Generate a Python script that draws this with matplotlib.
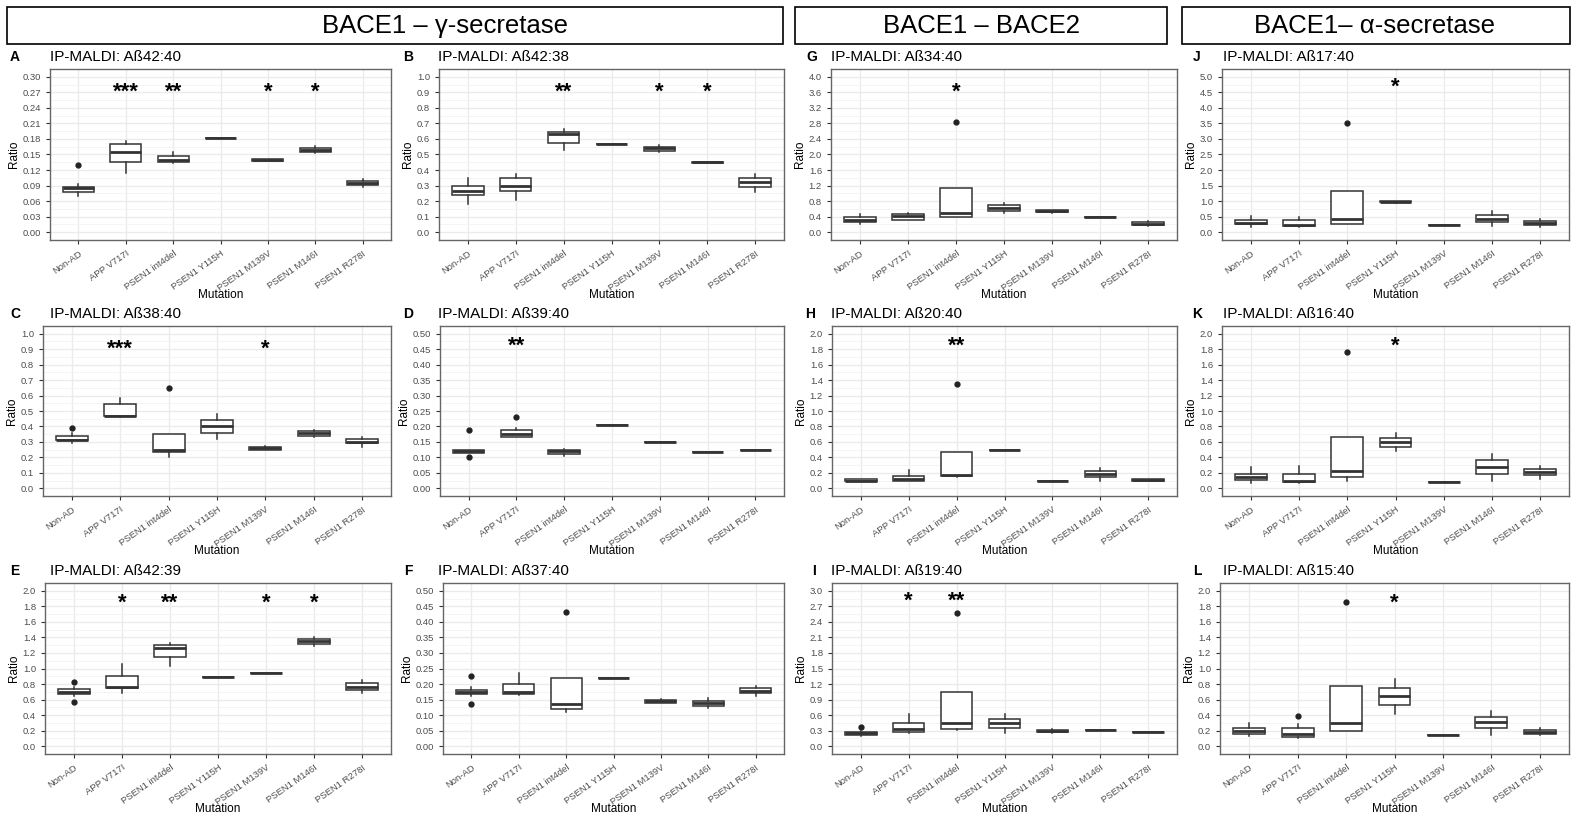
import matplotlib
matplotlib.use("Agg")
import matplotlib.pyplot as plt
from matplotlib.patches import Rectangle
from matplotlib.ticker import MultipleLocator, FormatStrFormatter

W, H = 1578, 821
plt.rcParams['font.family'] = ['Liberation Sans', 'DejaVu Sans']

cats = ["Non-AD", "APP V717I", "PSEN1 int4del", "PSEN1 Y115H",
        "PSEN1 M139V", "PSEN1 M146I", "PSEN1 R278I"]

# box stats per category: (whisker low, q1, median, q3, whisker high)
A_box = [(0.069, 0.077, 0.0845, 0.088, 0.093), (0.115, 0.1355, 0.154, 0.170, 0.176),
         (0.1335, 0.1355, 0.139, 0.147, 0.154), (0.1826, 0.1826, 0.1826, 0.1826, 0.1826),
         (0.138, 0.138, 0.140, 0.142, 0.142), (0.152, 0.155, 0.159, 0.1626, 0.166),
         (0.088, 0.091, 0.095, 0.0987, 0.102)]
A_out = [[0.130], [], [], [], [], [], []]
A_sig = ["", "***", "**", "", "*", "*", ""]

B_box = [(0.18, 0.242, 0.268, 0.30, 0.351), (0.21, 0.268, 0.298, 0.347, 0.373),
         (0.53, 0.576, 0.63, 0.647, 0.662), (0.567, 0.567, 0.567, 0.567, 0.567),
         (0.514, 0.525, 0.54, 0.55, 0.561), (0.445, 0.445, 0.449, 0.453, 0.453),
         (0.26, 0.29, 0.32, 0.35, 0.375)]
B_out = [[], [], [], [], [], [], []]
B_sig = ["", "", "**", "", "*", "*", ""]

C_box = [(0.29, 0.31, 0.315, 0.34, 0.36), (0.46, 0.47, 0.47, 0.545, 0.585),
         (0.205, 0.235, 0.25, 0.35, 0.35), (0.32, 0.36, 0.40, 0.445, 0.48),
         (0.245, 0.25, 0.26, 0.27, 0.275), (0.335, 0.34, 0.355, 0.37, 0.38),
         (0.27, 0.29, 0.30, 0.32, 0.335)]
C_out = [[0.39], [], [0.65], [], [], [], []]
C_sig = ["", "***", "", "", "*", "", ""]

D_box = [(0.115, 0.115, 0.12, 0.125, 0.125), (0.165, 0.167, 0.175, 0.187, 0.195),
         (0.105, 0.112, 0.12, 0.125, 0.128), (0.205, 0.205, 0.205, 0.205, 0.205),
         (0.15, 0.15, 0.15, 0.15, 0.15), (0.118, 0.118, 0.118, 0.118, 0.118),
         (0.125, 0.125, 0.125, 0.125, 0.125)]
D_out = [[0.19, 0.10], [0.232], [], [], [], [], []]
D_sig = ["", "**", "", "", "", "", ""]

E_box = [(0.65, 0.67, 0.70, 0.73, 0.76), (0.685, 0.745, 0.76, 0.905, 1.06),
         (1.03, 1.15, 1.27, 1.30, 1.33), (0.895, 0.895, 0.895, 0.895, 0.895),
         (0.94, 0.94, 0.94, 0.94, 0.94), (1.29, 1.32, 1.35, 1.385, 1.41),
         (0.68, 0.72, 0.765, 0.81, 0.85)]
E_out = [[0.83, 0.57], [], [], [], [], [], []]
E_sig = ["", "*", "**", "", "*", "*", ""]

F_box = [(0.16, 0.167, 0.173, 0.182, 0.19), (0.165, 0.167, 0.175, 0.20, 0.235),
         (0.11, 0.12, 0.135, 0.218, 0.218), (0.22, 0.22, 0.22, 0.22, 0.22),
         (0.138, 0.14, 0.145, 0.15, 0.152), (0.122, 0.128, 0.138, 0.147, 0.155),
         (0.162, 0.17, 0.178, 0.188, 0.195)]
F_out = [[0.225, 0.136], [], [0.432], [], [], [], []]
F_sig = ["", "", "", "", "", "", ""]

G_box = [(0.22, 0.27, 0.32, 0.38, 0.47), (0.32, 0.32, 0.42, 0.48, 0.50),
         (0.38, 0.40, 0.50, 1.14, 1.14), (0.50, 0.55, 0.62, 0.70, 0.76),
         (0.50, 0.51, 0.54, 0.57, 0.58), (0.38, 0.38, 0.38, 0.38, 0.38),
         (0.15, 0.18, 0.22, 0.26, 0.28)]
G_out = [[], [], [2.83], [], [], [], []]
G_sig = ["", "", "*", "", "", "", ""]

H_box = [(0.09, 0.09, 0.10, 0.12, 0.12), (0.10, 0.10, 0.12, 0.16, 0.24),
         (0.14, 0.155, 0.17, 0.47, 0.47), (0.49, 0.49, 0.49, 0.49, 0.49),
         (0.10, 0.10, 0.10, 0.10, 0.10), (0.10, 0.14, 0.18, 0.225, 0.26),
         (0.095, 0.095, 0.105, 0.12, 0.12)]
H_out = [[], [], [1.35], [], [], [], []]
H_sig = ["", "", "**", "", "", "", ""]

I_box = [(0.20, 0.22, 0.25, 0.28, 0.30), (0.25, 0.28, 0.33, 0.44, 0.63),
         (0.32, 0.34, 0.44, 1.04, 1.04), (0.26, 0.36, 0.45, 0.53, 0.63),
         (0.26, 0.27, 0.29, 0.32, 0.33), (0.32, 0.32, 0.32, 0.32, 0.32),
         (0.27, 0.27, 0.27, 0.27, 0.27)]
I_out = [[0.38], [], [2.57], [], [], [], []]
I_sig = ["", "*", "**", "", "", "", ""]

J_box = [(0.18, 0.25, 0.29, 0.40, 0.53), (0.18, 0.20, 0.24, 0.38, 0.50),
         (0.25, 0.28, 0.44, 1.32, 1.32), (0.94, 0.96, 0.98, 1.00, 1.02),
         (0.22, 0.22, 0.22, 0.22, 0.22), (0.20, 0.32, 0.44, 0.57, 0.68),
         (0.18, 0.24, 0.30, 0.36, 0.42)]
J_out = [[], [], [3.50], [], [], [], []]
J_sig = ["", "", "", "*", "", "", ""]

K_box = [(0.07, 0.11, 0.14, 0.18, 0.28), (0.07, 0.08, 0.10, 0.19, 0.29),
         (0.10, 0.14, 0.22, 0.66, 0.66), (0.48, 0.54, 0.60, 0.65, 0.71),
         (0.08, 0.08, 0.08, 0.08, 0.08), (0.10, 0.19, 0.28, 0.36, 0.44),
         (0.12, 0.17, 0.21, 0.25, 0.29)]
K_out = [[], [], [1.76], [], [], [], []]
K_sig = ["", "", "", "*", "", "", ""]

L_box = [(0.13, 0.16, 0.19, 0.23, 0.30), (0.10, 0.12, 0.16, 0.23, 0.29),
         (0.20, 0.20, 0.30, 0.77, 0.77), (0.41, 0.53, 0.64, 0.75, 0.86),
         (0.15, 0.15, 0.15, 0.15, 0.15), (0.15, 0.23, 0.31, 0.37, 0.45),
         (0.14, 0.16, 0.18, 0.21, 0.23)]
L_out = [[], [0.39], [1.86], [], [], [], []]
L_sig = ["", "", "", "*", "", "", ""]

fig = plt.figure(figsize=(W / 100, H / 100), dpi=100)


def fx(x):
    return x / W


def fy(y):
    return 1 - y / H


def panel(rect, letter, title, box, out, sig, ymax, step, fmt, star_y, letter_x, title_x):
    x0, y0, x1, y1 = rect
    ax = fig.add_axes([fx(x0), fy(y1), (x1 - x0) / W, (y1 - y0) / H])
    stats = []
    for (lo, q1, med, q3, hi), fl in zip(box, out):
        stats.append(dict(whislo=lo, q1=q1, med=med, q3=q3, whishi=hi, fliers=fl))
    ax.bxp(stats, positions=range(1, 8), widths=0.66, patch_artist=True, showcaps=False,
           boxprops=dict(facecolor='white', edgecolor='#333333', linewidth=1.1),
           medianprops=dict(color='#333333', linewidth=2.0),
           whiskerprops=dict(color='#333333', linewidth=1.1),
           flierprops=dict(marker='o', markerfacecolor='#222222', markeredgecolor='#222222',
                           markersize=3.5))
    ax.set_xlim(0.4, 7.6)
    ax.set_ylim(-0.05 * ymax, 1.05 * ymax)
    ax.yaxis.set_major_locator(MultipleLocator(step))
    ax.yaxis.set_minor_locator(MultipleLocator(step / 2))
    ax.yaxis.set_major_formatter(FormatStrFormatter(fmt))
    ax.set_xticks(range(1, 8))
    ax.set_xticklabels(cats, rotation=35, ha='right', rotation_mode='anchor')
    ax.tick_params(labelsize=6.8, labelcolor='#4D4D4D', color='#333333', length=3, width=0.8)
    ax.tick_params(which='minor', length=0)
    ax.set_axisbelow(True)
    ax.grid(which='major', color='#EBEBEB', linewidth=1.0)
    ax.grid(which='minor', axis='y', color='#F3F3F3', linewidth=0.6)
    for s in ax.spines.values():
        s.set_color('#666666')
        s.set_linewidth(1.0)
    ax.set_xlabel('Mutation', fontsize=8.5, va='center')
    ax.xaxis.set_label_coords(0.5, -55 / (y1 - y0))
    ax.set_ylabel('Ratio', fontsize=8.5, labelpad=2)
    for i, s in enumerate(sig):
        if s:
            ax.text(i + 1, star_y, s, ha='center', va='center', fontsize=16,
                    fontweight='bold')
    ty = y0 - 12
    fig.text(fx(letter_x), fy(ty), letter, fontsize=10, fontweight='bold', ha='center', va='center')
    fig.text(fx(title_x), fy(ty), title, fontsize=11, ha='left', va='center')
    return ax


panel((50, 69, 391, 240), "A", "IP-MALDI: Aß42:40", A_box, A_out, A_sig, 0.30, 0.03, '%.2f', 0.27, 15, 50)
panel((439, 69, 784, 240), "B", "IP-MALDI: Aß42:38", B_box, B_out, B_sig, 1.0, 0.1, '%.1f', 0.9, 408, 438)
panel((43, 326, 391, 496), "C", "IP-MALDI: Aß38:40", C_box, C_out, C_sig, 1.0, 0.1, '%.1f', 0.9, 15, 50)
panel((440, 326, 784, 496), "D", "IP-MALDI: Aß39:40", D_box, D_out, D_sig, 0.50, 0.05, '%.2f', 0.46, 408, 438)
panel((45, 583, 391, 754), "E", "IP-MALDI: Aß42:39", E_box, E_out, E_sig, 2.0, 0.2, '%.1f', 1.84, 15, 50)
panel((443, 583, 784, 754), "F", "IP-MALDI: Aß37:40", F_box, F_out, F_sig, 0.50, 0.05, '%.2f', 0.46, 408, 438)
panel((831, 69, 1177, 240), "G", "IP-MALDI: Aß34:40", G_box, G_out, G_sig, 4.0, 0.4, '%.1f', 3.6, 812, 831)
panel((832, 326, 1177, 496), "H", "IP-MALDI: Aß20:40", H_box, H_out, H_sig, 2.0, 0.2, '%.1f', 1.84, 810, 831)
panel((832, 583, 1177, 754), "I", "IP-MALDI: Aß19:40", I_box, I_out, I_sig, 3.0, 0.3, '%.1f', 2.8, 814, 831)
panel((1222, 69, 1569, 240), "J", "IP-MALDI: Aß17:40", J_box, J_out, J_sig, 5.0, 0.5, '%.1f', 4.65, 1197, 1223)
panel((1222, 326, 1569, 496), "K", "IP-MALDI: Aß16:40", K_box, K_out, K_sig, 2.0, 0.2, '%.1f', 1.84, 1197, 1223)
panel((1220, 583, 1569, 754), "L", "IP-MALDI: Aß15:40", L_box, L_out, L_sig, 2.0, 0.2, '%.1f', 1.84, 1197, 1223)

# group header boxes: (text, box left, box right, text centre)
headers = [("BACE1 – γ-secretase", 7, 783, 445), ("BACE1 – BACE2", 795, 1167, 981),
           ("BACE1– α-secretase", 1182, 1570, 1375)]
for text, x0, x1, xc in headers:
    fig.add_artist(Rectangle((fx(x0), fy(44)), (x1 - x0) / W, 37 / H, transform=fig.transFigure,
                             fill=False, edgecolor='black', linewidth=1.2))
    fig.text(fx(xc), fy(26), text, fontsize=18.5, ha='center', va='center')

fig.savefig("out.png", dpi=100)
